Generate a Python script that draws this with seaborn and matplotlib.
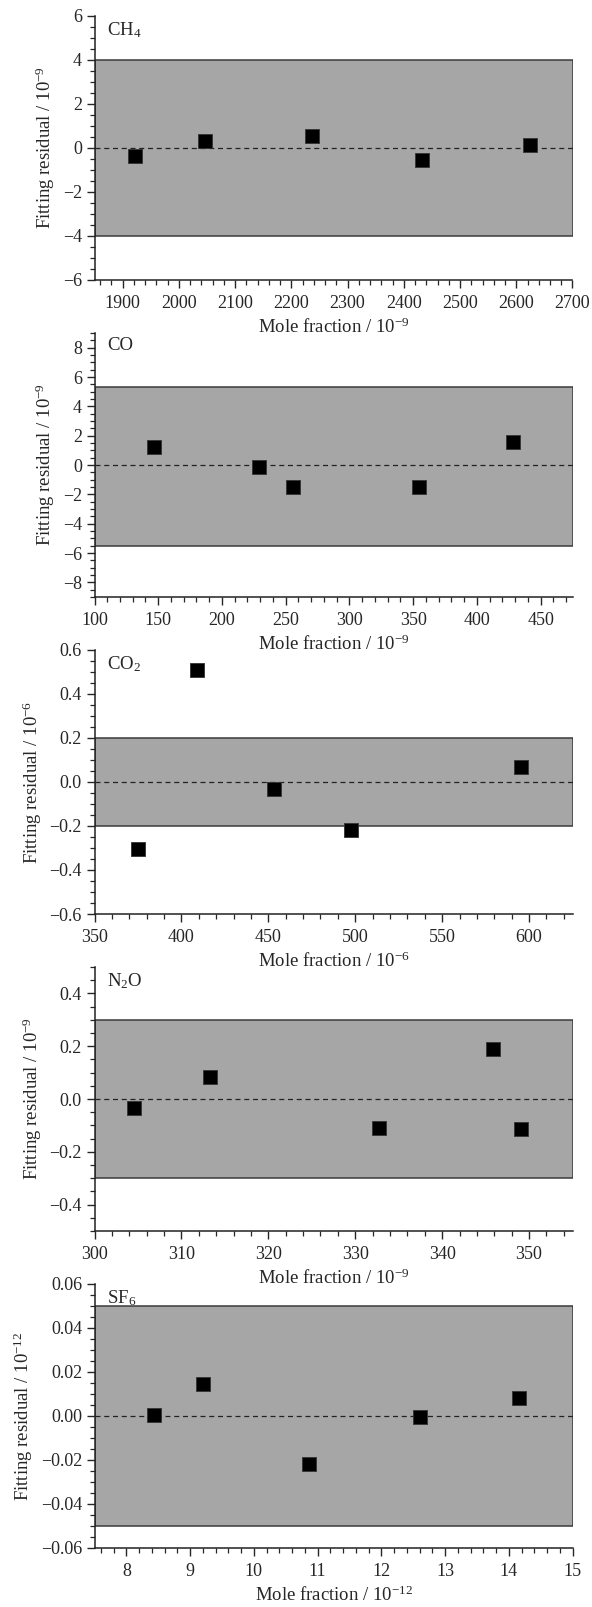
import numpy as np
import pandas as pd
import seaborn as sns
import matplotlib.pyplot as plt
from matplotlib.ticker import MultipleLocator, FuncFormatter

# Datos (fraccion molar vs residuo del ajuste)
ch4_x = [1922, 2047, 2236, 2432, 2624]
ch4_y = [-0.38, 0.33, 0.56, -0.53, 0.14]

co_x = [146.8, 228.8, 255.4, 354.6, 428.0]
co_y = [1.20, -0.11, -1.48, -1.48, 1.55]

co2_x = [375.0, 408.7, 453.3, 497.8, 595.2]
co2_y = [-0.305, 0.508, -0.033, -0.220, 0.070]

n2o_x = [304.6, 313.3, 332.7, 345.8, 349.1]
n2o_y = [-0.035, 0.082, -0.109, 0.190, -0.115]

sf6_x = [8.43, 9.20, 10.86, 12.60, 14.16]
sf6_y = [0.0005, 0.0147, -0.0218, -0.0003, 0.0080]

gases = ['CH$_\\mathregular{4}$', 'CO', 'CO$_\\mathregular{2}$', 'N$_\\mathregular{2}$O', 'SF$_\\mathregular{6}$']
units = ['10$^{-9}$', '10$^{-9}$', '10$^{-6}$', '10$^{-9}$', '10$^{-12}$']
bands = [(-4, 4), (-5.5, 5.3), (-0.2, 0.2), (-0.3, 0.3), (-0.05, 0.05)]
xlims = [(1850, 2700), (100, 475), (350, 625), (300, 355), (7.5, 15)]
ylims = [(-6, 6), (-9, 9), (-0.6, 0.6), (-0.5, 0.5), (-0.06, 0.06)]
xmaj = [100, 50, 50, 10, 1]
xmin = [20, 10, 10, 2, 0.2]
ymaj = [2, 2, 0.2, 0.2, 0.02]
ymin = [0.5, 0.5, 0.05, 0.05, 0.005]
ydec = [0, 0, 1, 1, 2]

sns.set_style('ticks')
plt.rcParams['font.family'] = ['Liberation Serif', 'DejaVu Serif']
plt.rcParams['mathtext.fontset'] = 'custom'
plt.rcParams['mathtext.rm'] = 'Liberation Serif'
plt.rcParams['mathtext.it'] = 'Liberation Serif:italic'


def fmt(dec):
    # usa el signo menos tipografico como en la figura original
    def f(v, pos):
        s = f'{v:.{dec}f}'
        if s.lstrip('-').strip('0.') == '':
            s = s.lstrip('-')
        return s.replace('-', '\u2212')
    return FuncFormatter(f)


datos = [(ch4_x, ch4_y), (co_x, co_y), (co2_x, co2_y), (n2o_x, n2o_y), (sf6_x, sf6_y)]

fig = plt.figure(figsize=(5.92, 16.07), dpi=100)
H = 1607.0
tops = [16, 333, 650, 967, 1284]
alto = 264
izq, ancho = 94.5 / 592, 478 / 592

for i, (xs, ys) in enumerate(datos):
    ax = fig.add_axes([izq, 1 - (tops[i] + alto) / H, ancho, alto / H])
    df = pd.DataFrame({'x': xs, 'y': ys})

    lo, hi = bands[i]
    ax.axhspan(lo, hi, facecolor='#a6a6a6', edgecolor='#3a3a3a', lw=1.1, zorder=0)
    ax.axhline(0, ls=(0, (4, 3)), color='#222222', lw=0.9, zorder=1)
    sns.scatterplot(data=df, x='x', y='y', ax=ax, marker='s', s=90,
                    color='black', edgecolor='#333333', linewidth=0.6, zorder=3)

    ax.set_xlim(*xlims[i])
    ax.set_ylim(*ylims[i])
    ax.xaxis.set_major_locator(MultipleLocator(xmaj[i]))
    ax.xaxis.set_minor_locator(MultipleLocator(xmin[i]))
    ax.yaxis.set_major_locator(MultipleLocator(ymaj[i]))
    ax.yaxis.set_minor_locator(MultipleLocator(ymin[i]))
    ax.yaxis.set_major_formatter(fmt(ydec[i]))
    ax.xaxis.set_major_formatter(fmt(0))

    ax.tick_params(which='major', direction='out', length=6, width=1, labelsize=13, pad=3)
    ax.tick_params(axis='x', which='major', pad=5)
    ax.tick_params(which='minor', direction='out', length=3.5, width=0.9)
    for s in ['left', 'bottom']:
        ax.spines[s].set_linewidth(1.1)
        ax.spines[s].set_color('#222222')
    sns.despine(ax=ax)

    ax.set_xlabel('Mole fraction / ' + units[i], fontsize=13.5, labelpad=4)
    ax.set_ylabel('Fitting residual / ' + units[i], fontsize=13.5, labelpad=4)
    ax.text(0.026, 0.985, gases[i], transform=ax.transAxes, ha='left', va='top', fontsize=13.5)

fig.savefig('out.png', dpi=100)
